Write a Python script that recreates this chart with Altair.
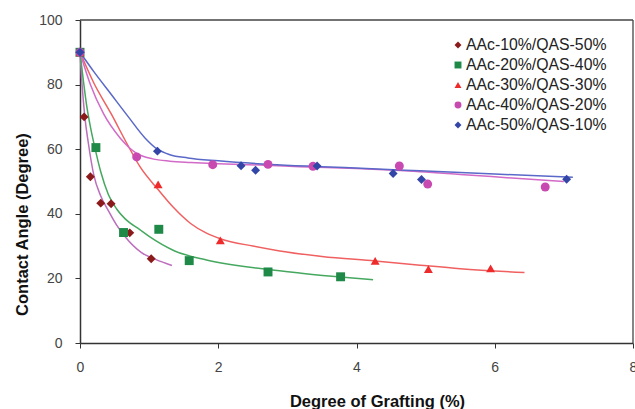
import altair as alt
import pandas as pd

series = ["AAc-10%/QAS-50%", "AAc-20%/QAS-40%", "AAc-30%/QAS-30%",
          "AAc-40%/QAS-20%", "AAc-50%/QAS-10%"]

# measured points
p1_x = [0, 0.06, 0.15, 0.30, 0.45, 0.72, 1.03]
p1_y = [90, 70, 51.5, 43.3, 43.1, 34.1, 26.1]
p2_x = [0, 0.23, 0.63, 1.14, 1.58, 2.72, 3.77]
p2_y = [90, 60.5, 34.2, 35.2, 25.5, 22.0, 20.5]
p3_x = [0, 1.13, 2.03, 4.27, 5.04, 5.94]
p3_y = [90, 49.1, 31.8, 25.4, 22.9, 23.1]
p4_x = [0, 0.82, 1.92, 2.72, 3.37, 4.62, 5.03, 6.73]
p4_y = [90, 57.6, 55.2, 55.3, 54.7, 54.8, 49.2, 48.3]
p5_x = [0, 1.12, 2.33, 2.54, 3.43, 4.53, 4.94, 7.04]
p5_y = [90, 59.4, 54.9, 53.5, 54.8, 52.5, 50.6, 50.7]

# fitted curves
c1_x = [0, 0.03, 0.07, 0.12, 0.2, 0.3, 0.41, 0.53, 0.65, 0.89, 1.1, 1.33]
c1_y = [90, 80, 70, 62, 52, 45.5, 41, 36.5, 33, 28, 25.8, 24]
c2_x = [0, 0.05, 0.1, 0.15, 0.22, 0.3, 0.41, 0.53, 0.65, 0.87, 1.0, 1.37, 1.83, 2.7, 3.2, 3.77, 4.24]
c2_y = [90, 81, 73, 67, 60, 53, 46, 41.5, 38.5, 35, 33, 28.5, 25.7, 22.8, 21.6, 20.4, 19.6]
c3_x = [0, 0.2, 0.45, 0.69, 0.87, 1.13, 1.35, 1.6, 1.83, 2.03, 2.5, 2.89, 3.5, 4.27, 4.92, 5.5, 6.43]
c3_y = [90, 80.5, 71, 61.3, 54.5, 47.5, 42, 37, 34, 32.3, 30, 28.5, 26.8, 25.4, 24.1, 23, 21.8]
c4_x = [0, 0.15, 0.34, 0.58, 0.82, 1.05, 1.3, 1.6, 2, 2.6, 3.18, 4, 4.63, 5.5, 6.3, 7.0]
c4_y = [90, 80, 71, 63.5, 58.7, 57, 56.3, 55.9, 55.5, 55.1, 54.6, 54, 53.4, 52.2, 51, 50]
c5_x = [0, 0.2, 0.45, 0.7, 0.94, 1.12, 1.3, 1.56, 2, 2.75, 3.5, 4.3, 4.92, 6, 7.13]
c5_y = [90, 84, 77, 70, 63.5, 60, 58.3, 57.3, 56.4, 55.3, 54.6, 53.9, 53.3, 52.3, 51.3]

x_ticks = [0, 2, 4, 6, 8]
y_ticks = [0, 20, 40, 60, 80, 100]

point_colors = ["#8B1A1A", "#1F8A48", "#EE2A2A", "#C84AB0", "#3346A8"]
line_colors = ["#BC6EBC", "#45A85E", "#F06060", "#D26AC8", "#5A68C8"]
shapes = ["diamond", "square", "triangle-up", "circle", "diamond"]

pts = []
for i, (xs, ys) in enumerate([(p1_x, p1_y), (p2_x, p2_y), (p3_x, p3_y), (p4_x, p4_y), (p5_x, p5_y)]):
    for a, b in zip(xs, ys):
        pts.append({"s": series[i], "x": a, "y": b, "o": i})
crv = []
for i, (xs, ys) in enumerate([(c1_x, c1_y), (c2_x, c2_y), (c3_x, c3_y), (c4_x, c4_y), (c5_x, c5_y)]):
    for j, (a, b) in enumerate(zip(xs, ys)):
        crv.append({"s": series[i], "x": a, "y": b, "k": j})
pts = pd.DataFrame(pts)
crv = pd.DataFrame(crv)
leg_df = pd.DataFrame({"s": series, "r": list(range(len(series)))})
one = pd.DataFrame({"f": [0]})

xsc = alt.Scale(domain=[0, 8], nice=False, zero=False)
ysc = alt.Scale(domain=[0, 100], nice=False)
col_sc = alt.Scale(domain=series, range=point_colors)
shp_sc = alt.Scale(domain=series, range=shapes)

xax = alt.Axis(values=x_ticks, format="d", title="Degree of Grafting (%)", grid=False,
               labelFlush=False, labelFontSize=14, labelColor="#444", labelPadding=12, tickSize=5,
               titleFontSize=16.5, titleFontWeight="bold", titleColor="#111",
               titleX=297, titleY=58, titleBaseline="middle", titleAlign="center",
               domainColor="#333", tickColor="#333", domainWidth=1.5)
yax = alt.Axis(values=y_ticks, format="d", title="Contact Angle (Degree)", grid=False,
               labelFontSize=14, labelColor="#444", labelPadding=13, tickSize=5,
               titleFontSize=16.5, titleFontWeight="bold", titleColor="#111",
               titleX=-58, titleY=204, titleBaseline="middle", titleAlign="center",
               domainColor="#333", tickColor="#333", domainWidth=1.5)

# plot frame: top and right edges of the box
frame_top = alt.Chart(one).mark_rule(color="#444", strokeWidth=1.3).encode(
    x=alt.value(0), x2=alt.value(553), y=alt.value(0))
frame_right = alt.Chart(one).mark_rule(color="#444", strokeWidth=1.3).encode(
    x=alt.value(553), y=alt.value(0), y2=alt.value(323))

lines = alt.Chart(crv).mark_line(interpolate="monotone", strokeWidth=1.5).encode(
    x=alt.X("x:Q", scale=xsc, axis=xax),
    y=alt.Y("y:Q", scale=ysc, axis=yax),
    stroke=alt.Stroke("s:N", scale=alt.Scale(domain=series, range=line_colors), legend=None),
    order="k:Q",
)

points = alt.Chart(pts).mark_point(filled=True, opacity=1, size=80).encode(
    x=alt.X("x:Q", scale=xsc),
    y=alt.Y("y:Q", scale=ysc),
    color=alt.Color("s:N", scale=col_sc, legend=None),
    shape=alt.Shape("s:N", scale=shp_sc, legend=None),
    order="o:Q",
)

# legend (symbol + label rows)
leg_base = alt.Chart(leg_df).transform_calculate(py="25 + 20 * datum.r")
leg_sym = leg_base.mark_point(filled=True, opacity=1, size=48).encode(
    x=alt.value(378),
    y=alt.Y("py:Q", scale=None),
    color=alt.Color("s:N", scale=col_sc, legend=None),
    shape=alt.Shape("s:N", scale=shp_sc, legend=None),
)
leg_txt = leg_base.mark_text(align="left", baseline="middle", fontSize=15.8,
                             color="#222", font="Liberation Sans").encode(
    x=alt.value(386),
    y=alt.Y("py:Q", scale=None),
    text="s:N",
)

chart = alt.layer(frame_top, frame_right, lines, points, leg_sym, leg_txt).properties(
    width=553, height=323,
    autosize=alt.AutoSizeParams(type="none"),
    padding={"left": 80, "top": 20, "right": 2, "bottom": 66},
).configure(font="Liberation Sans").configure_view(stroke=None)

chart.save("out.html", embed_options={"renderer": "svg", "actions": False})
